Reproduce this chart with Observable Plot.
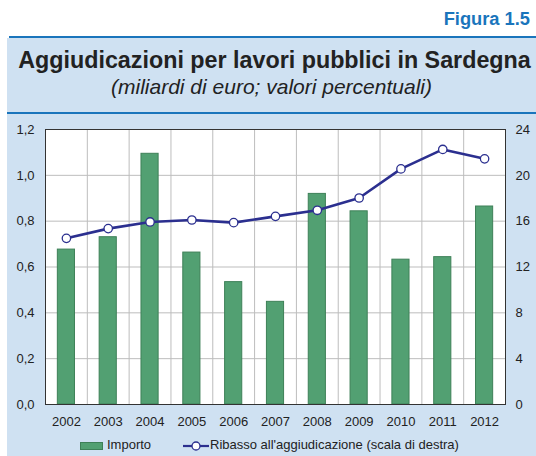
<!DOCTYPE html>
<html><head><meta charset="utf-8">
<script src="https://cdn.jsdelivr.net/npm/d3@7"></script>
<script src="https://cdn.jsdelivr.net/npm/@observablehq/plot@0.6"></script>
<style>
body{margin:0;background:#fff;font-family:"Liberation Sans",Arial,sans-serif;}
#wrap{position:relative;width:536px;height:456px;overflow:hidden;}
#fig{position:absolute;right:6px;top:8px;font-weight:bold;font-size:18.3px;color:#1a75bc;}
#panel{position:absolute;left:7px;top:38px;width:529px;height:418px;background:#cfe1f2;}
#rule1{position:absolute;left:9px;top:36px;width:527px;height:2px;background:#1a75bc;}
#rule2{position:absolute;left:7px;top:112px;width:529px;height:2px;background:#1a75bc;}
#title{position:absolute;left:10px;width:529px;top:47px;text-align:center;font-weight:bold;font-size:23.3px;color:#222;white-space:nowrap;}
#sub{position:absolute;left:7px;width:529px;top:75px;text-align:center;font-style:italic;font-size:21px;color:#222;white-space:nowrap;}
#chart{position:absolute;left:0;top:115px;}
#legend{position:absolute;top:437px;left:0;width:536px;font-size:13px;color:#222;}
.sw{position:absolute;left:80px;top:5px;width:23px;height:8px;background:#52a072;border:1px solid #3e8058;box-sizing:border-box;}
.l1{position:absolute;left:107px;top:0;}
.l2{position:absolute;left:210px;top:0;}
#lineSw{position:absolute;left:183px;top:0;}
</style></head>
<body><div id="wrap">
<div id="fig">Figura 1.5</div>
<div id="panel"></div>
<div id="rule1"></div>
<div id="rule2"></div>
<div id="title">Aggiudicazioni per lavori pubblici in Sardegna</div>
<div id="sub">(miliardi di euro; valori percentuali)</div>
<div id="chart"></div>
<div id="legend">
<div class="sw"></div><span class="l1">Importo</span>
<svg id="lineSw" width="26" height="18"><line x1="0" y1="9" x2="26" y2="9" stroke="#2b2f8f" stroke-width="2.2"/><circle cx="13" cy="9" r="4" fill="#fff" stroke="#2b2f8f" stroke-width="1.3"/></svg>
<span class="l2">Ribasso all'aggiudicazione (scala di destra)</span>
</div>
</div>
<script>
const years = [2002,2003,2004,2005,2006,2007,2008,2009,2010,2011,2012];
const importo = [0.676,0.730,1.094,0.663,0.534,0.448,0.919,0.843,0.632,0.643,0.864];
const ribasso = [14.5,15.35,15.93,16.1,15.87,16.42,16.95,18.02,20.56,22.26,21.44];
const leftTicks = [0,0.2,0.4,0.6,0.8,1.0,1.2];
const rightTicks = [0,4,8,12,16,20,24];
const ratio = 1.2/24;

const data = years.map((y,i)=>({year:y, importo:importo[i], ribasso:ribasso[i]}));
const bounds = years.slice(0,-1).map(y=>y+0.5);
const fmt = d => d.toFixed(1).replace(".", ",");

const chart = Plot.plot({
  width:536, height:317,
  marginLeft:45, marginRight:31, marginTop:14, marginBottom:28,
  style:{background:"transparent", fontFamily:"Liberation Sans, Arial, sans-serif", fontSize:"13px", color:"#222"},
  x:{domain:[2001.5,2012.5]},
  y:{domain:[0,1.2]},
  marks:[
    Plot.frame({fill:"#fff"}),
    Plot.gridY(leftTicks,{stroke:"#bdbdbd", strokeOpacity:1}),
    Plot.gridX(bounds,{stroke:"#bdbdbd", strokeOpacity:1}),
    Plot.rectY(data,{x1:d=>d.year-0.205, x2:d=>d.year+0.205, y:"importo", fill:"#52a072", stroke:"#3e8058", strokeWidth:1}),
    Plot.line(data,{x:"year", y:d=>d.ribasso*ratio, stroke:"#2b2f8f", strokeWidth:2.6}),
    Plot.dot(data,{x:"year", y:d=>d.ribasso*ratio, r:4.2, fill:"#fff", stroke:"#2b2f8f", strokeWidth:1.3}),
    Plot.frame({stroke:"#333", strokeWidth:1}),
    Plot.axisX(years,{tickSize:0, tickPadding:12, tickFormat:d=>String(d), label:null}),
    Plot.axisY(leftTicks,{anchor:"left", tickSize:0, tickPadding:11, tickFormat:fmt, label:null}),
    Plot.axisY(rightTicks.map(d=>d*ratio),{anchor:"right", tickSize:0, tickPadding:10, tickFormat:d=>String(Math.round(d/ratio)), label:null})
  ]
});
document.getElementById("chart").appendChild(chart);
</script>
</body></html>
